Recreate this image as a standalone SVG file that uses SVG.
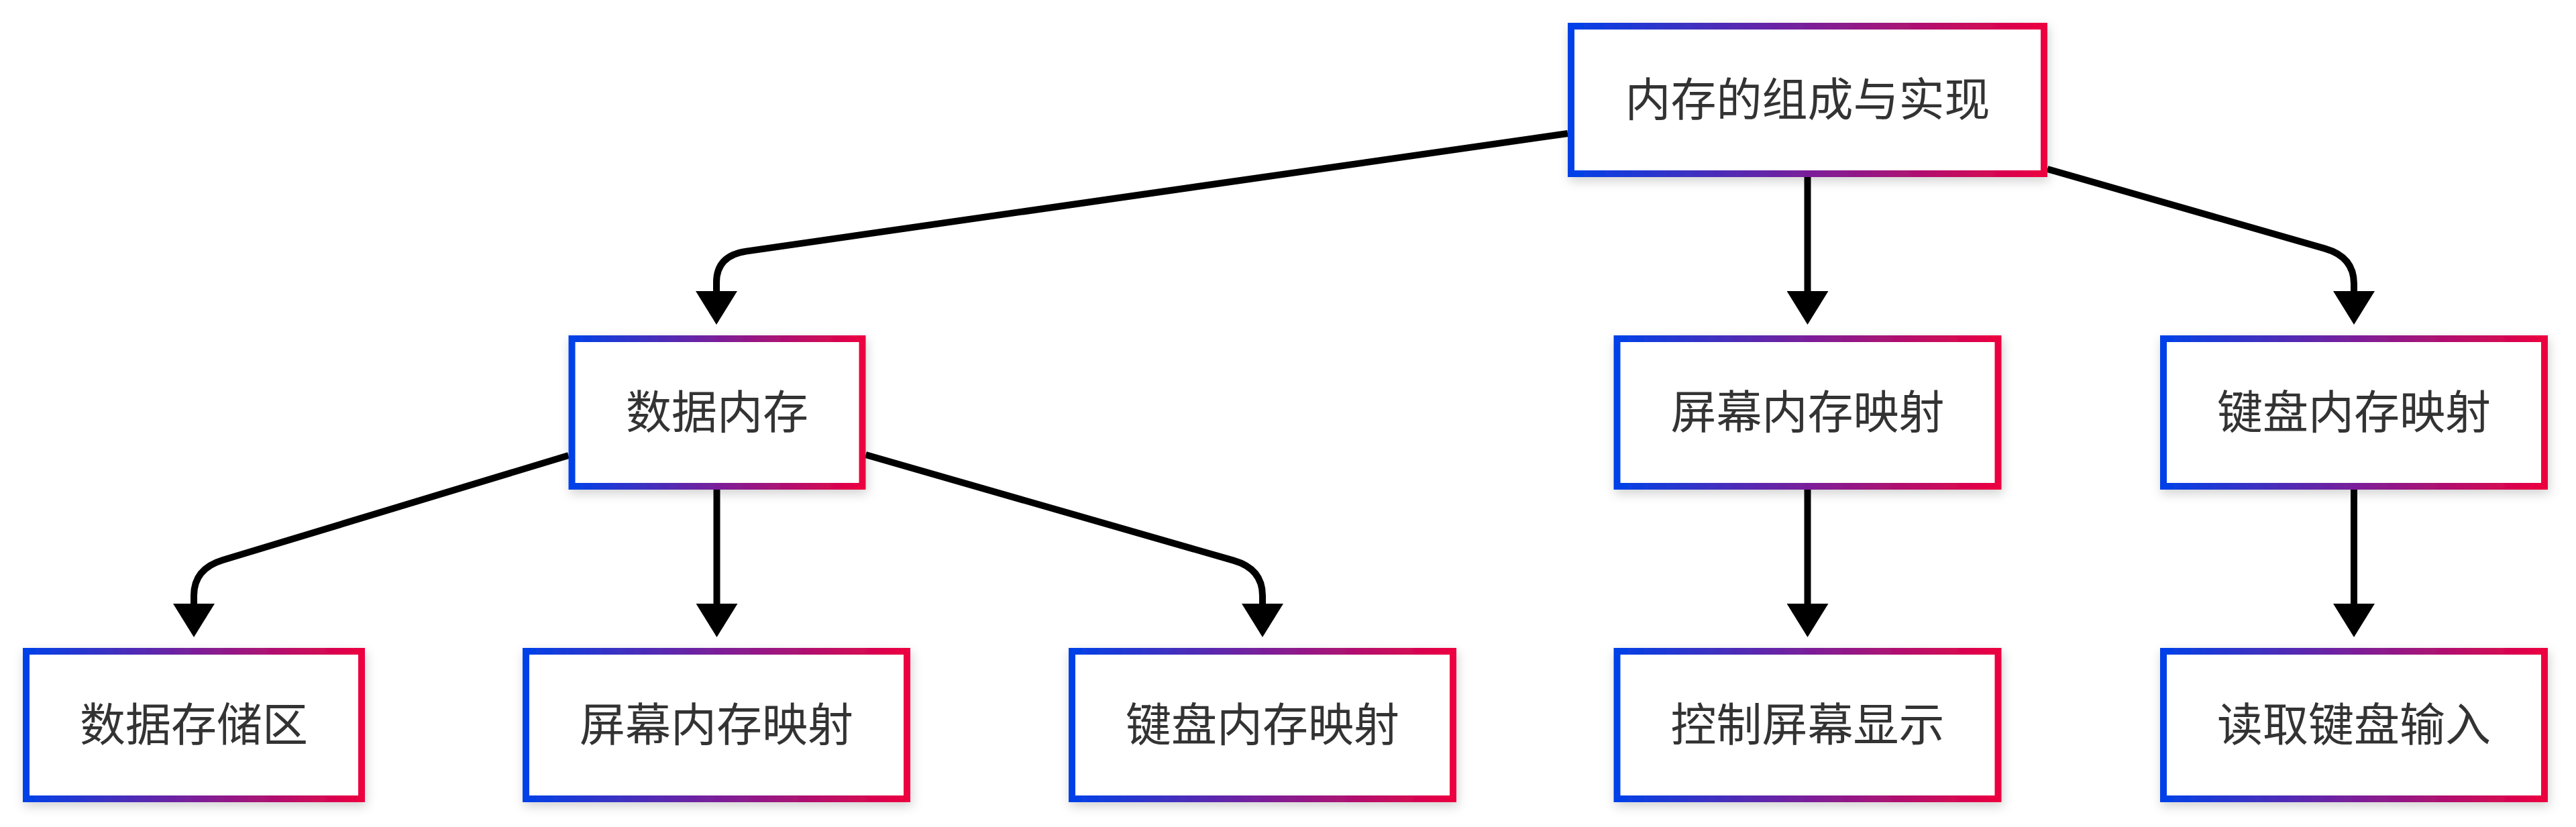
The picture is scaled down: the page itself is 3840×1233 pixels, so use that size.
<svg xmlns="http://www.w3.org/2000/svg" width="3840" height="1233" viewBox="0 0 3840 1233">
<defs>
<linearGradient id="grad" x1="0" y1="0" x2="1" y2="0">
<stop offset="0" stop-color="#0041E8"/>
<stop offset="0.5" stop-color="#7A1F9A"/>
<stop offset="1" stop-color="#EC0040"/>
</linearGradient>
<filter id="shadow" x="-10%" y="-20%" width="120%" height="150%">
<feDropShadow dx="2" dy="6" stdDeviation="8" flood-color="#000" flood-opacity="0.18"/>
</filter>
<marker id="arrow" markerUnits="userSpaceOnUse" viewBox="0 0 50 62" refX="0" refY="31" markerWidth="50" markerHeight="62" orient="auto">
<path d="M0,0 L50,31 L0,62 Z" fill="#000"/>
</marker>
</defs>
<style>
.edge{fill:none;stroke:#000;stroke-width:10;marker-end:url(#arrow)}
.box{fill:#fff;stroke:url(#grad);stroke-width:10;filter:url(#shadow)}
.lbl{font-family:"Noto Sans CJK SC","Noto Sans",sans-serif;font-size:68px;fill:#333;text-anchor:middle}
</style>
<rect width="3840" height="1233" fill="#fff"/>
<g id="connectors">
<path class="edge" d="M2337,199 L1112.6,374.6 Q1068,381 1068,421 L1068,434"/>
<path class="edge" d="M2694.5,264 L2694.5,434"/>
<path class="edge" d="M3052,252 L3465.7,370.6 Q3509,383 3509,423 L3509,434"/>
<path class="edge" d="M847.5,679 L332.1,835 Q289,848 289,888 L289,900"/>
<path class="edge" d="M1068.5,730 L1068.5,900"/>
<path class="edge" d="M1290.5,678 L1838.8,835.6 Q1882,848 1882,888 L1882,900"/>
<path class="edge" d="M2694.5,730 L2694.5,900"/>
<path class="edge" d="M3509,730 L3509,900"/>
</g>
<g id="root">
<rect class="box" x="2342" y="39" width="705" height="220"/>
<text class="lbl" x="2694.5" y="173">内存的组成与实现</text>
</g>
<g id="data-memory">
<rect class="box" x="852.5" y="505" width="433" height="220"/>
<text class="lbl" x="1069" y="639">数据内存</text>
</g>
<g id="screen-map-1">
<rect class="box" x="2410.5" y="505" width="568" height="220"/>
<text class="lbl" x="2694.5" y="639">屏幕内存映射</text>
</g>
<g id="keyboard-map-1">
<rect class="box" x="3225" y="505" width="568" height="220"/>
<text class="lbl" x="3509" y="639">键盘内存映射</text>
</g>
<g id="data-storage">
<rect class="box" x="39" y="971" width="500" height="220"/>
<text class="lbl" x="289" y="1105">数据存储区</text>
</g>
<g id="screen-map-2">
<rect class="box" x="784" y="971" width="568" height="220"/>
<text class="lbl" x="1068" y="1105">屏幕内存映射</text>
</g>
<g id="keyboard-map-2">
<rect class="box" x="1598" y="971" width="568" height="220"/>
<text class="lbl" x="1882" y="1105">键盘内存映射</text>
</g>
<g id="screen-control">
<rect class="box" x="2410.5" y="971" width="568" height="220"/>
<text class="lbl" x="2694.5" y="1105">控制屏幕显示</text>
</g>
<g id="keyboard-read">
<rect class="box" x="3225" y="971" width="568" height="220"/>
<text class="lbl" x="3509" y="1105">读取键盘输入</text>
</g>
</svg>
